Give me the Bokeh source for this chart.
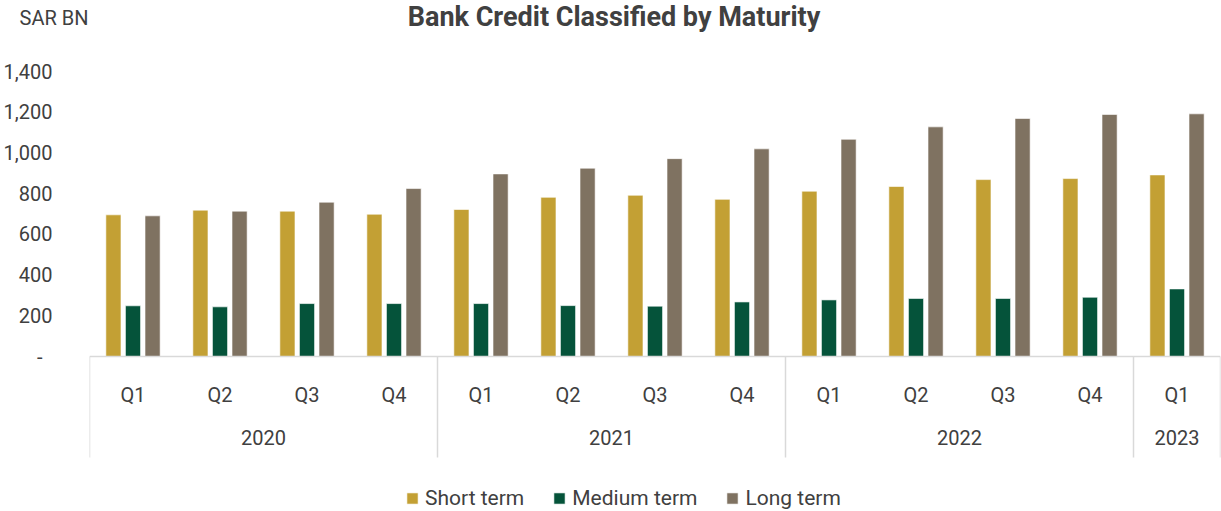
from bokeh.plotting import figure
from bokeh.layouts import column
from bokeh.models import (FactorRange, Range1d, FixedTicker, CustomJSTickFormatter,
                          Legend, LegendItem, Label, ColumnDataSource, Arrow, LinearAxis)
from bokeh.transform import dodge
from bokeh.embed import file_html
from bokeh.resources import INLINE

years = ["2020"] * 4 + ["2021"] * 4 + ["2022"] * 4 + ["2023"]
quarters = ["Q1", "Q2", "Q3", "Q4"] * 3 + ["Q1"]
short_term = [696, 719, 714, 699, 722, 782, 792, 772, 812, 835, 869, 874, 892]
medium_term = [249, 244, 260, 260, 260, 250, 247, 268, 278, 285, 285, 291, 332]
long_term = [691, 714, 758, 825, 897, 925, 972, 1020, 1067, 1128, 1169, 1189, 1192]
y_ticks = [0, 200, 400, 600, 800, 1000, 1200, 1400]
title_text = "Bank Credit Classified by Maturity"
unit_text = "SAR BN"

FONT = "Roboto"
TXT = "#404040"
GRID = "#D9D9D9"
C_SHORT = "#C3A034"
C_MED = "#05533A"
C_LONG = "#7F7261"

# ---- layout constants (page pixels) ----
W, H = 1221, 511
HEAD = 40                          # header strip height (title + unit)
LEFT, RIGHT = 88, 1
PX_ZERO, PX_TOP = 356, 71          # page rows of value 0 and of the top tick
H2 = H - HEAD
ppu = (PX_ZERO - PX_TOP) / y_ticks[-1]
y_lo = -(H - PX_ZERO) / ppu
y_hi = y_ticks[-1] + (PX_TOP - HEAD) / ppu

# ---- header: unit label (as axis label at left) and title ----
head = figure(width=W, height=HEAD, x_range=Range1d(LEFT, W - RIGHT),
              y_range=Range1d(HEAD, 0), x_axis_type=None, y_axis_type=None,
              output_backend="svg", toolbar_location=None, min_border=0,
              min_border_left=LEFT, min_border_right=RIGHT)
head.outline_line_color = None
ua = LinearAxis(ticker=FixedTicker(ticks=[17]),
                formatter=CustomJSTickFormatter(code="return '%s';" % unit_text),
                axis_line_color=None, major_tick_line_color=None, minor_tick_line_color=None,
                major_tick_out=0, major_tick_in=0, major_label_standoff=1,
                major_label_text_font=FONT, major_label_text_font_size="20px",
                major_label_text_color=TXT)
head.add_layout(ua, "left")
head.add_layout(Label(x=613, y=16, text=title_text, text_align="center",
                      text_baseline="middle", text_font=FONT, text_font_size="27px",
                      text_font_style="bold", text_color=TXT))

# ---- chart ----
factors = list(zip(years, quarters))
src = ColumnDataSource(dict(x=factors, s=short_term, m=medium_term, l=long_term))

p = figure(x_range=FactorRange(factors=factors, range_padding=0, group_padding=0,
                               subgroup_padding=0, factor_padding=0),
           y_range=Range1d(y_lo, y_hi),
           width=W, height=H2, output_backend="svg", toolbar_location=None,
           min_border_left=LEFT, min_border_right=RIGHT, min_border_top=0,
           min_border_bottom=0)

p.outline_line_color = None
p.xgrid.grid_line_color = None
p.ygrid.grid_line_color = None

w = 0.174
r1 = p.vbar(x=dodge("x", -0.225, range=p.x_range), top="s", width=w, source=src,
            fill_color=C_SHORT, line_color="white", line_width=0.6)
r2 = p.vbar(x=dodge("x", 0.0, range=p.x_range), top="m", width=w, source=src,
            fill_color=C_MED, line_color="white", line_width=0.6)
r3 = p.vbar(x=dodge("x", 0.225, range=p.x_range), top="l", width=w, source=src,
            fill_color=C_LONG, line_color="white", line_width=0.6)

ya = p.yaxis[0]
ya.ticker = FixedTicker(ticks=y_ticks)
ya.formatter = CustomJSTickFormatter(
    code="return tick == 0 ? '-\u00a0\u00a0' : tick.toLocaleString('en-US');")
ya.axis_line_color = None
ya.major_tick_line_color = None
ya.minor_tick_line_color = None
ya.major_label_standoff = 31
ya.major_label_text_font = FONT
ya.major_label_text_font_size = "20px"
ya.major_label_text_color = TXT

xa = p.xaxis[0]
xa.fixed_location = 0
xa.axis_line_color = GRID
xa.axis_line_width = 1.5
xa.major_tick_line_color = None
xa.minor_tick_line_color = None
xa.major_label_text_font = FONT
xa.major_label_text_font_size = "20px"
xa.major_label_text_color = TXT
xa.major_label_standoff = 20
xa.group_text_font = FONT
xa.group_text_font_size = "20px"
xa.group_text_color = TXT
xa.group_text_font_style = "normal"
xa.separator_line_color = None

# year separators (at group boundaries, incl. outer edges), below the axis line
year_bounds = [0]
for i in range(1, len(years)):
    if years[i] != years[i - 1]:
        year_bounds.append(i)
year_bounds.append(len(years))
sep_bottom = -(457 - PX_ZERO) / ppu
for b in year_bounds:
    p.add_layout(Arrow(x_start=b, y_start=0, x_end=b, y_end=sep_bottom, end=None,
                       line_color=GRID, line_width=1.5))

legend = Legend(items=[LegendItem(label="Short term", renderers=[r1]),
                       LegendItem(label="Medium term", renderers=[r2]),
                       LegendItem(label="Long term", renderers=[r3])],
                orientation="horizontal", location=(316, 1),
                label_text_font=FONT, label_text_font_size="21px", label_text_color=TXT,
                glyph_width=14, glyph_height=14, label_height=14, label_standoff=6,
                spacing=28, border_line_color=None, background_fill_alpha=0,
                padding=0, margin=0)
p.add_layout(legend, "center")

open("out.html", "w").write(file_html(column(head, p, spacing=0), INLINE))
